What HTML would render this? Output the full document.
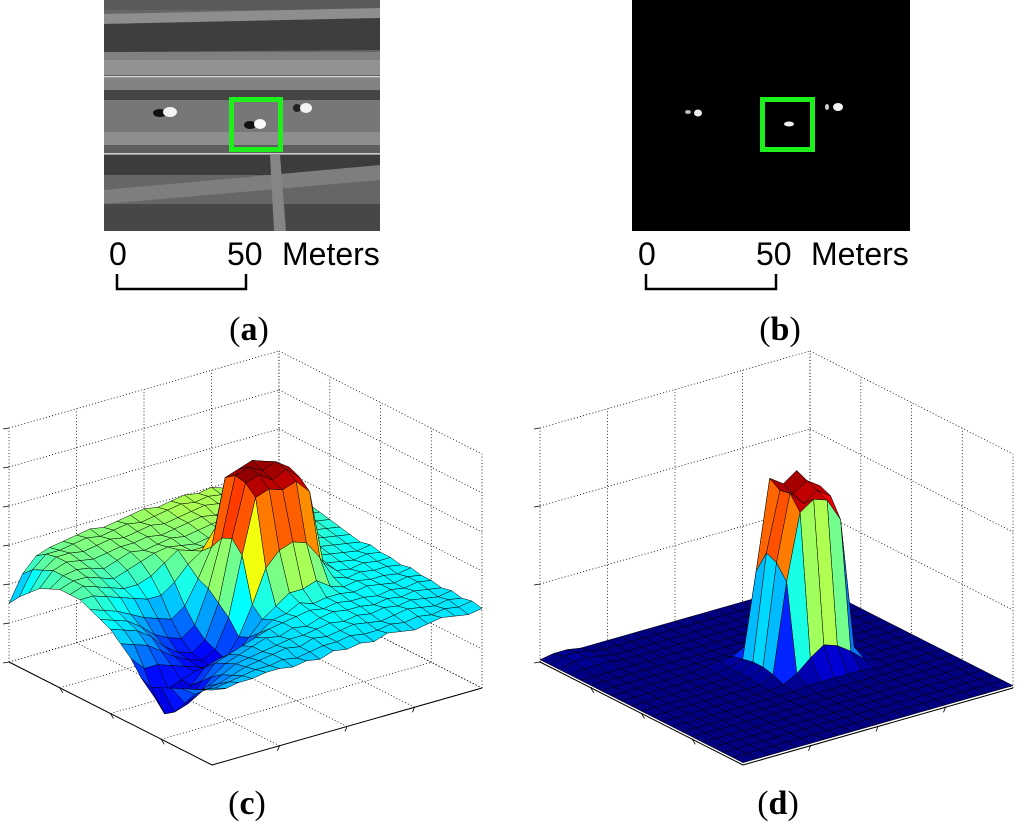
<!DOCTYPE html>
<html><head><meta charset="utf-8">
<style>
html,body{margin:0;padding:0;background:#fff;}
body{width:1024px;height:822px;overflow:hidden;position:relative;font-family:"Liberation Sans",sans-serif;}
svg{position:absolute;left:0;top:0;}
.sb{font-family:"Liberation Sans",sans-serif;font-size:32px;fill:#000;}
.lab{font-family:"Liberation Serif",serif;font-size:34px;fill:#000;}
</style></head>
<body>
<svg id="fig" width="1024" height="822" viewBox="0 0 1024 822">
  <g>
    <rect x="104" y="0" width="276" height="231" fill="#666"/>
    <rect x="104" y="0" width="276" height="10" fill="#5a5a5a"/>
    <polygon points="104,14 380,8 380,18 104,24" fill="#8e8e8e"/>
    <polygon points="104,24 380,18 380,50 104,52" fill="#3e3e3e"/>
    <rect x="104" y="52" width="276" height="8" fill="#808080"/>
    <rect x="104" y="60" width="276" height="15" fill="#929292"/>
    <rect x="104" y="76" width="276" height="1.5" fill="#d0d0d0"/>
    <rect x="104" y="78" width="276" height="12" fill="#828282"/>
    <rect x="104" y="90" width="276" height="10" fill="#454545"/>
    <rect x="104" y="100" width="276" height="32" fill="#777"/>
    <rect x="104" y="132" width="276" height="13" fill="#8e8e8e"/>
    <rect x="104" y="145" width="276" height="8" fill="#5e5e5e"/>
    <rect x="104" y="153" width="276" height="1.5" fill="#c8c8c8"/>
    <rect x="104" y="155" width="276" height="20" fill="#3c3c3c"/>
    <polygon points="104,190 380,165 380,180 104,204" fill="#7e7e7e"/>
    <rect x="104" y="204" width="276" height="27" fill="#474747"/>
    <polygon points="270,155 280,155 286,231 274,231" fill="#858585"/>
    <ellipse cx="160" cy="113" rx="7" ry="4" fill="#111"/>
    <ellipse cx="170" cy="112" rx="7" ry="5" fill="#f4f4f4"/>
    <ellipse cx="250" cy="125" rx="6" ry="4" fill="#111"/>
    <ellipse cx="260" cy="124" rx="6" ry="5" fill="#f8f8f8"/>
    <ellipse cx="297" cy="108" rx="4" ry="4" fill="#222"/>
    <ellipse cx="306" cy="108" rx="6" ry="5" fill="#f4f4f4"/>
    <rect x="231.5" y="99.5" width="49" height="50" fill="none" stroke="#1ef01e" stroke-width="5"/>
  </g>
  <g>
    <text class="sb" x="109" y="265">0</text>
    <text class="sb" x="227" y="265">50</text>
    <text class="sb" x="282" y="265">Meters</text>
    <polyline points="117,274 117,289 246,289 246,274" fill="none" stroke="#000" stroke-width="2.5"/>
  </g>
  <text class="lab" x="249" y="340" text-anchor="middle">(<tspan font-weight="bold">a</tspan>)</text>

  <g>
    <rect x="632" y="0" width="278" height="231" fill="#000"/>
    <ellipse cx="688" cy="112" rx="3" ry="2" fill="#bbb"/>
    <ellipse cx="698" cy="113" rx="4" ry="3.5" fill="#eee"/>
    <ellipse cx="789" cy="124" rx="5" ry="2.5" fill="#eee"/>
    <ellipse cx="827" cy="107" rx="2" ry="3" fill="#ccc"/>
    <ellipse cx="838" cy="107" rx="5" ry="4" fill="#f4f4f4"/>
    <rect x="762.5" y="99.5" width="50" height="50" fill="none" stroke="#1ef01e" stroke-width="5"/>
  </g>
  <g>
    <text class="sb" x="638" y="265">0</text>
    <text class="sb" x="756" y="265">50</text>
    <text class="sb" x="811" y="265">Meters</text>
    <polyline points="646,274 646,289 776,289 776,274" fill="none" stroke="#000" stroke-width="2.5"/>
  </g>
  <text class="lab" x="780" y="340" text-anchor="middle">(<tspan font-weight="bold">b</tspan>)</text>

  <g id="plotC"></g>
  <g id="plotD"></g>
  <text class="lab" x="247" y="814" text-anchor="middle">(<tspan font-weight="bold">c</tspan>)</text>
  <text class="lab" x="778" y="814" text-anchor="middle">(<tspan font-weight="bold">d</tspan>)</text>
</svg>
<script>
// Surface (c): heights in % of box height; rows = x index (front->left), cols = y index (front->right)
const surfC = [
[32,31,32,32,33,33,32,33,32,34,33,34,33,35,34,33,34,35,34,33,34],
[30,29,30,31,32,32,33,32,33,34,34,35,34,34,35,34,35,34,35,34,35],
[28,26,27,29,31,32,33,34,33,35,34,35,36,35,34,35,36,35,34,35,34],
[26,22,24,27,30,31,32,33,34,34,35,36,35,36,35,36,35,36,35,34,35],
[24,16,18,24,28,30,32,34,33,35,34,36,37,36,36,35,36,35,36,35,34],
[22,10,12,20,26,28,30,32,34,35,36,37,36,37,36,36,35,36,35,36,35],
[20,7,9,16,22,24,22,26,30,34,35,38,36,37,37,36,37,36,35,36,35],
[22,12,14,16,18,17,16,20,26,32,36,40,40,42,38,36,37,36,36,35,36],
[28,22,22,20,18,16,14,16,24,36,50,56,58,56,48,38,36,37,36,36,35],
[32,30,28,24,20,17,15,18,30,55,78,80,78,80,74,42,37,36,37,36,36],
[36,34,32,28,22,18,16,20,34,60,82,84,80,83,78,44,38,37,36,37,36],
[38,36,34,30,25,22,20,24,38,58,83,85,82,84,80,45,39,38,37,36,37],
[40,38,36,33,30,28,26,30,40,52,80,82,84,82,76,46,40,39,38,37,36],
[42,42,40,38,36,34,34,38,44,48,56,60,62,58,52,46,42,40,39,38,37],
[42,44,42,40,38,38,40,44,48,46,46,47,48,48,46,45,43,41,40,39,38],
[42,44,44,42,40,42,44,46,47,46,45,46,47,48,47,46,44,42,41,40,39],
[40,44,45,44,42,44,46,45,46,47,46,47,48,49,48,47,45,43,42,41,40],
[38,44,46,45,44,45,46,46,47,46,47,48,49,48,49,48,46,44,43,42,41],
[34,42,46,46,45,46,47,46,47,48,47,48,49,50,49,48,47,45,44,43,42],
[30,40,45,45,46,47,46,47,48,47,48,49,50,49,50,49,48,46,45,44,43],
[25,36,42,44,45,46,47,46,47,48,49,48,49,50,49,50,48,47,46,45,44]
];
// Surface (d)
const surfD = [
[1,1,1,1,1,1,1,1,1,1,1,1,1,1,1,1,1,1,1,1,1],
[1,1,1,1,1,1,1,1,1,1,1,1,1,1,1,1,1,1,1,1,1],
[1,1,1,1,1,1,1,1,1,1,1,1,1,1,1,1,1,1,1,1,1],
[1,1,1,1,1,1,1,1,1,1,1,1,1,1,1,1,1,1,1,1,1],
[1,1,1,1,1,1,1,1,1,1,1,1,1,1,1,1,1,1,1,1,1],
[1,1,1,1,1,1,1,1,1,1,1,1,1,1,1,1,1,1,1,1,1],
[1,1,1,1,1,1,1,1,1,1,1,1,1,1,1,1,1,1,1,1,1],
[1,1,1,1,1,1,1,1,1,1,2,2,2,2,2,1,1,1,1,1,1],
[1,1,1,1,1,1,1,1,1,2,5,10,14,12,8,3,1,1,1,1,1],
[1,1,1,1,1,1,1,1,1,4,42,70,74,72,62,6,1,1,1,1,1],
[1,1,1,1,1,1,1,1,2,5,48,76,70,74,70,8,1,1,1,1,1],
[1,1,1,1,1,1,1,1,2,5,50,75,72,76,72,8,1,1,1,1,1],
[1,1,1,1,1,1,1,1,2,4,40,78,74,78,60,5,1,1,1,1,1],
[1,1,1,1,1,1,1,2,3,3,6,10,12,10,6,2,1,1,1,1,1],
[1,1,1,1,1,1,1,1,1,1,1,2,2,1,1,1,1,1,1,1,1],
[1,1,1,1,1,1,1,1,1,1,1,1,1,1,1,1,1,1,1,1,1],
[1,1,1,1,1,1,1,1,1,1,1,1,1,1,1,1,1,1,1,1,1],
[1,2,2,2,1,1,1,1,1,1,1,1,1,1,1,1,1,1,1,1,1],
[1,3,3,2,1,1,1,1,1,1,1,1,1,1,1,1,1,1,1,1,1],
[1,3,3,2,1,1,1,1,1,1,1,1,1,1,1,1,1,1,1,1,1],
[1,2,2,1,1,1,1,1,1,1,1,1,1,1,1,1,1,1,1,1,1]
];
const zDivsC = 6, zDivsD = 3, xyDivs = 4;

const NS = "http://www.w3.org/2000/svg";
function jet(t){
  t=Math.max(0,Math.min(1,t));
  const c=v=>Math.round(255*Math.max(0,Math.min(1,v)));
  return `rgb(${c(1.5-Math.abs(4*t-3))},${c(1.5-Math.abs(4*t-2))},${c(1.5-Math.abs(4*t-1))})`;
}
function mk(tag, attrs, parent){
  const e=document.createElementNS(NS,tag);
  for(const k in attrs) e.setAttribute(k,attrs[k]);
  parent.appendChild(e); return e;
}
function drawPlot(g, data, F, L, R, H, zDivs){
  const P=(u,v,z)=>[F[0]+u*(L[0]-F[0])+v*(R[0]-F[0]), F[1]+u*(L[1]-F[1])+v*(R[1]-F[1])-z*H];
  const line=(a,b,dash,w,name)=>{
    const l=mk('line',{x1:a[0].toFixed(1),y1:a[1].toFixed(1),x2:b[0].toFixed(1),y2:b[1].toFixed(1),stroke:'#000','stroke-width':w||0.8},g);
    if(dash) l.setAttribute('stroke-dasharray','1 2.2');
    
    
  };
  for(let k=0;k<=xyDivs;k++){
    const f=k/xyDivs;
    line(P(1,f,0),P(1,f,1),true,0.8,'grid-line');
    line(P(f,1,0),P(f,1,1),true,0.8,'grid-line');
    line(P(f,0,0),P(f,1,0),true,0.8,'grid-line');
    line(P(0,f,0),P(1,f,0),true,0.8,'grid-line');
  }
  for(let k=0;k<=zDivs;k++){
    const z=k/zDivs;
    line(P(1,0,z),P(1,1,z),true,0.8,'grid-line');
    line(P(1,1,z),P(0,1,z),true,0.8,'grid-line');
    const a=P(1,0,z);
    line([a[0]-6,a[1]+1],a,false,0.8,'z-tick');
  }
  const n=data.length, m=data[0].length;
  let mn=Infinity,mx=-Infinity;
  data.forEach(r=>r.forEach(v=>{mn=Math.min(mn,v);mx=Math.max(mx,v);}));
  const cells=[];
  for(let i=0;i<n-1;i++) for(let j=0;j<m-1;j++) cells.push([i,j]);
  cells.sort((a,b)=>(b[0]+b[1])-(a[0]+a[1]));
  const sg=mk('g',{},g);
  
  
  for(const [i,j] of cells){
    const u0=i/(n-1),u1=(i+1)/(n-1),v0=j/(m-1),v1=(j+1)/(m-1);
    const z00=data[i][j],z10=data[i+1][j],z11=data[i+1][j+1],z01=data[i][j+1];
    const pts=[P(u0,v0,z00/100),P(u1,v0,z10/100),P(u1,v1,z11/100),P(u0,v1,z01/100)];
    const avg=(z00+z10+z11+z01)/4;
    const p=mk('polygon',{points:pts.map(q=>q[0].toFixed(1)+','+q[1].toFixed(1)).join(' '),fill:jet((avg-mn)/(mx-mn)),stroke:'#000','stroke-width':0.5,'stroke-linejoin':'round'},sg);
    
    
  }
  line(F,L,false,1,'x-axis-line');
  line(F,R,false,1,'y-axis-line');
  for(let k=1;k<xyDivs;k++){
    const f=k/xyDivs;
    const a=P(f,0,0), b=P(0,f,0);
    line(a,[a[0]+3,a[1]+5],false,0.8,'x-tick');
    line(b,[b[0]-2,b[1]+5],false,0.8,'y-tick');
  }
}
drawPlot(document.getElementById('plotC'), surfC, [212,765],[9,662],[482,688],234, zDivsC);
drawPlot(document.getElementById('plotD'), surfD, [743,765],[540,662],[1013,688],234, zDivsD);
</script>
</body></html>
